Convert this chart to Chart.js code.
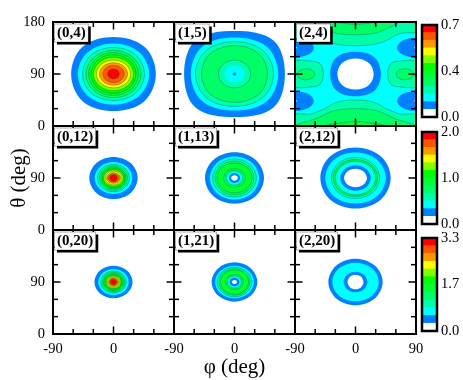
<!DOCTYPE html>
<html><head><meta charset="utf-8">
<style>html,body{margin:0;padding:0;background:#fff;width:463px;height:380px;overflow:hidden}canvas{position:absolute;left:0;top:0}</style>
<script src="https://cdn.jsdelivr.net/npm/chart.js@4"></script>
</head><body>
<script>
// Contour levels, low to high
const levelColors=['#ffffff','#0080ff','#00ffff','#00ffaa','#00ff66','#00ff33','#00ff00','#80ff00','#ffff00','#ff9900','#ff5500','#ff0000'];
// Ring readings: [level, half-width phi, half-height theta, corner phi, corner theta, centre phi, centre theta]
const rings_0_4=[[1,63,64,46,47],[2,53,53,38,38],[3,46,46,33,33],[4,41,41,29,29],[5,37,37,26.3,26.3],[6,33.5,33.5,23.7,23.7],[7,30,29,21,20.5],[8,25.5,24,18,17],[9,21,19.5,14.8,13.8],[10,16,15,11.3,10.6],[11,8.5,8.7,6,6.2]];
const rings_1_5=[[1,75,74.5,58,58],[2,65,63,48,47],[3,58,56,42,41],[4,49,49,36,35],[3,24,24,17,17],[2,15,14.5,10.6,10.3],[1,2.5,3,1.8,2.1]];
const rings_2_4=[[1,28,17,20,12,-90,135.6],[1,28,17,20,12,90,135.6],[1,28,17,20,12,-90,43.3],[1,28,17,20,12,90,43.3],[0,2.5,2,1.8,1.4,-90,135.6],[0,2.5,2,1.8,1.4,90,135.6],[0,2.5,2,1.8,1.4,-90,43.3],[0,2.5,2,1.8,1.4,90,43.3],[4,13,9.5,9.2,6.7,-73.5,89.5],[4,13,9.5,9.2,6.7,73.5,89.5],[1,37.7,38.4,28.5,28.5],[0,27,27,19.5,19.5]];
const bands_2_4=[
 [2,[[-140,-60],[140,-60],[140,240],[-140,240]]],
 [3,[[-95,165],[-66,160],[-46,148],[-26,141],[0,139],[26,141],[46,148],[66,160],[95,165],[95,195],[-95,195]]],
 [4,[[-66,182],[-46,168],[-26,160],[0,158],[26,160],[46,168],[66,182],[66,195],[-66,195]]],
 [5,[[-38,182],[-20,178],[0,176],[20,178],[38,182],[38,195],[-38,195]]],
 [3,[[-95,18],[-66,21],[-46,30],[-28,41],[0,45],[28,41],[46,30],[66,21],[95,18],[95,-15],[-95,-15]]],
 [4,[[-95,-2],[-58,13],[-33,26],[0,30],[33,26],[58,13],[95,-2],[95,-15],[-95,-15]]],
 [5,[[-50,-2],[-25,5],[0,8],[25,5],[50,-2],[50,-15],[-50,-15]]],
 [3,[[-95,110],[-63,112],[-52,107],[-48,90],[-52,73],[-63,68],[-95,70]]],
 [3,[[95,110],[63,112],[52,107],[48,90],[52,73],[63,68],[95,70]]]
];
const rings_0_12=[[1,36,36.5,25.5,25.8],[2,28,27.5,19.8,19.5],[3,23.7,23.7,16.8,16.8],[4,21,21,14.8,14.8],[5,18.7,18.8,13.2,13.3],[6,16.8,16.5,11.9,11.7],[7,14.8,14.2,10.5,10],[8,12.3,11.8,8.7,8.3],[9,10.4,9.2,7.3,6.5],[10,8.4,7.2,5.9,5.1],[11,5.4,5.5,3.8,3.9]];
const rings_1_13=[[1,43.9,44.4,31.2,31.5],[2,36.5,37.2,25.9,26.3],[3,32.5,32.9,23,23.3],[4,29,29.4,20.5,20.8],[5,26,26,18.4,18.4],[4,16,16,11.3,11.3],[3,12.8,12.8,9,9],[2,10.5,10.5,7.4,7.4],[1,8.2,8.6,5.8,6.1],[0,5,4.6,3.5,3.3]];
const rings_2_12=[[1,52.3,52.8,37.5,37.5],[2,45,44,32,31.5],[3,36,35.5,25.5,25.2],[4,33,32,23.4,22.7],[3,30.5,29.5,21.6,20.9],[2,28,27,19.8,19.1],[1,22.7,22.2,16.1,15.7],[0,17,15.9,12,11.2]];
const rings_0_20=[[1,28.3,28,20,19.8],[2,22.7,22.5,16,16],[3,19,19,13.4,13.4],[4,16.8,16.8,11.9,11.9],[5,14.8,14.8,10.5,10.5],[6,12.8,12.8,9,9],[7,11,11,7.8,7.8],[8,9.1,9.1,6.4,6.4],[9,7.6,7.6,5.4,5.4],[10,6,6,4.2,4.2],[11,4.2,4.2,3,3]];
const rings_1_21=[[1,34,34,24,24],[2,28.8,28.3,20.4,20],[3,25.9,25.5,18.3,18],[4,23,23,16.3,16.3],[5,21,21,14.8,14.8],[4,13,13,9.2,9.2],[3,10.6,10.6,7.5,7.5],[2,8.9,8.9,6.3,6.3],[1,7.4,7.4,5.2,5.2],[0,3.7,3.5,2.6,2.5]];
const rings_2_20=[[1,40.4,40.4,28.6,28.6],[2,34.5,33.5,24.4,23.7],[1,17.7,17.9,12.5,12.7],[0,11.8,12.7,8.3,9]];
// Panel labels and content, row by row
const panelLabels=[['(0,4)','(1,5)','(2,4)'],['(0,12)','(1,13)','(2,12)'],['(0,20)','(1,21)','(2,20)']];
const panelRings=[[rings_0_4,rings_1_5,rings_2_4],[rings_0_12,rings_1_13,rings_2_12],[rings_0_20,rings_1_21,rings_2_20]];
// Tick labels
const xTickLabels=[[-90,0],[-90,0],[-90,0,90]];
const yTickLabels=[[0,90,180],[0,90],[0,90]];
// Colour bars
const barBands=[
 [0.0584,0.0584,0.0584,0.0584,0.0584,0.0584,0.0584,0.0584,0.0584,0.0584,0.0584,0.0584],
 [0.1667,0.1667,0.1667,0.1667,0.1667,0.1667,0.1667,0.1667,0.1667,0.1667,0.1667,0.1667],
 [0.275,0.275,0.275,0.275,0.275,0.275,0.275,0.275,0.275,0.275,0.275,0.275]];
const barMax=[0.7,2.0,3.3];
const barTickValues=[[0,0.35,0.7],[0,1.0,2.0],[0,1.65,3.3]];
const barTickLabels=[['0.0','0.4','0.7'],['0.0','1.0','2.0'],['0.0','1.7','3.3']];

// Layout
const colEdges=[53,174,295,416], rowEdges=[22,126,230,334];
const barX=[422,437], barY=[[25,117],[132,224],[238,331]];
const W=463,H=380;
const serif='"Liberation Serif","Times New Roman",serif';
Chart.defaults.font.family=serif;

function ringPoints(r){
  const [,a,b,p,q,cx=0,cy=90]=r;
  return [[cx+a,cy],[cx+p,cy+q],[cx,cy+b],[cx-p,cy+q],[cx-a,cy],[cx-p,cy-q],[cx,cy-b],[cx+p,cy-q]];
}
function lineColor(l){return l>=3?'rgba(0,60,50,0.45)':'rgba(0,0,0,0)';}
function ringDataset(level,pts,i,n){
  const wrapped=[pts[pts.length-1],...pts,pts[0],pts[1]];
  const m=wrapped.length, col=lineColor(level);
  return {data:wrapped.map(p=>({x:p[0],y:p[1]})),showLine:true,pointRadius:0,tension:0.36,
    fill:'shape',backgroundColor:levelColors[level],borderColor:col,borderWidth:0.7,order:n-i,
    segment:{borderColor:c=>(c.p0DataIndex===0||c.p1DataIndex===m-1)?'rgba(0,0,0,0)':col}};
}
const framePlugin={id:'frame',afterDraw(chart,args,opts){
  const ctx=chart.ctx,a=chart.chartArea;
  ctx.save();ctx.strokeStyle='#000';ctx.lineCap='butt';
  if(opts.ticks){
    ctx.lineWidth=1.5;
    const xs=chart.scales.x,ys=chart.scales.y;
    const seg=(x1,y1,x2,y2)=>{ctx.beginPath();ctx.moveTo(x1,y1);ctx.lineTo(x2,y2);ctx.stroke();};
    xs.ticks.forEach(t=>{const x=xs.getPixelForValue(t.value),l=t.value%90===0?7.5:5;seg(x,a.top,x,a.top+l);seg(x,a.bottom,x,a.bottom-l);});
    ys.ticks.forEach(t=>{const y=ys.getPixelForValue(t.value),l=t.value%90===0?7.5:5;seg(a.left,y,a.left+l,y);seg(a.right,y,a.right-l,y);});
  }
  ctx.lineWidth=opts.width||2;ctx.strokeRect(a.left,a.top,a.right-a.left,a.bottom-a.top);
  if(opts.label){
    ctx.font='bold 15px '+serif;ctx.textBaseline='middle';ctx.textAlign='left';
    const w=ctx.measureText(opts.label).width+5,x=a.left+1.5,y=a.top+2,h=18;
    ctx.fillStyle='#000';ctx.fillRect(x+2.5,y+2.5,w,h);
    ctx.fillStyle='#fff';ctx.fillRect(x,y,w,h);
    ctx.strokeStyle='rgba(0,0,0,0.45)';ctx.lineWidth=0.7;ctx.strokeRect(x,y,w,h);
    ctx.fillStyle='#000';ctx.fillText(opts.label,x+2.5,y+h/2+0.5);
  }
  ctx.restore();
}};
function addCanvas(){const c=document.createElement('canvas');c.width=W;c.height=H;c.style.width=W+'px';c.style.height=H+'px';document.body.appendChild(c);return c;}

panelRings.forEach((rowRings,row)=>rowRings.forEach((rings,col)=>{
  const bands=rings===rings_2_4?bands_2_4:[];
  const n=bands.length+rings.length;
  const sets=[
    ...bands.map((b,i)=>ringDataset(b[0],b[1],i,n)),
    ...rings.map((r,i)=>ringDataset(r[0],ringPoints(r),i+bands.length,n))
  ];
  const xLab=row===2?xTickLabels[col]:[], yLab=col===0?yTickLabels[row]:[];
  new Chart(addCanvas(),{type:'scatter',data:{datasets:sets},plugins:[framePlugin],options:{
    responsive:false,animation:false,devicePixelRatio:1,
    layout:{padding:{left:colEdges[col]-46,right:W-colEdges[col+1],top:rowEdges[row],bottom:H-rowEdges[row+1]-46}},
    plugins:{legend:{display:false},tooltip:{enabled:false},frame:{ticks:true,label:panelLabels[row][col]}},
    scales:{
      x:{type:'linear',min:-90,max:90,position:'bottom',
        afterFit(s){s.height=46;},
        grid:{display:false,drawTicks:false},border:{display:false},
        ticks:{stepSize:30,autoSkip:false,maxRotation:0,padding:6,color:'#000',font:{size:14.5},display:row===2,callback:v=>xLab.includes(v)?String(v):''},
        title:{display:row===2&&col===1,text:'φ (deg)',color:'#000',font:{size:21},padding:{top:0,bottom:0}}},
      y:{type:'linear',min:0,max:180,position:'left',
        afterFit(s){s.width=46;},
        grid:{display:false,drawTicks:false},border:{display:false},
        ticks:{stepSize:30,autoSkip:false,padding:8,color:'#000',font:{size:14.5},display:col===0,callback:v=>yLab.includes(v)?String(v):''},
        title:{display:row===1&&col===0,text:'θ (deg)',color:'#000',font:{size:21},padding:{top:0,bottom:0}}}
    }}});
}));

barBands.forEach((bands,b)=>{
  new Chart(addCanvas(),{type:'bar',
    data:{labels:[''],datasets:bands.map((v,i)=>({data:[v],backgroundColor:levelColors[i],borderWidth:0,barPercentage:1,categoryPercentage:1,stack:'s'}))},
    plugins:[framePlugin],
    options:{responsive:false,animation:false,devicePixelRatio:1,
      layout:{padding:{left:barX[0],right:W-barX[1]-26,top:barY[b][0],bottom:H-barY[b][1]}},
      plugins:{legend:{display:false},tooltip:{enabled:false},frame:{width:2.5}},
      scales:{
        x:{display:false,stacked:true},
        y:{stacked:true,position:'right',min:0,max:barMax[b],
          afterFit(s){s.width=26;},
          afterBuildTicks(s){s.ticks=barTickValues[b].map(v=>({value:v}));},
          grid:{display:false,drawTicks:false},border:{display:false},
          ticks:{padding:4,color:'#000',font:{size:14.5},autoSkip:false,callback:(v)=>{const i=barTickValues[b].indexOf(v);return i<0?'':barTickLabels[b][i];}}}
      }}});
});
</script>
</body></html>
